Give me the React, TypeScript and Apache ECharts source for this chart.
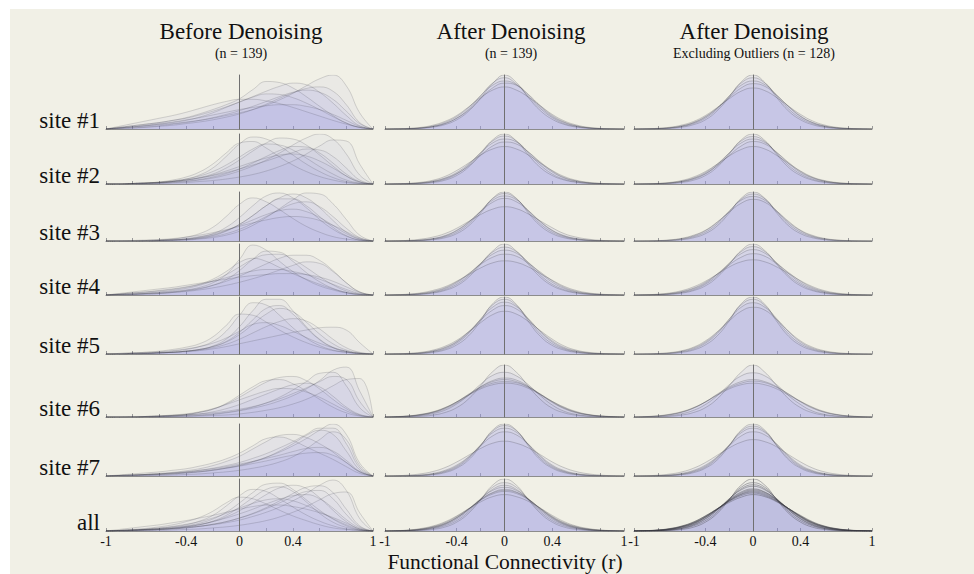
import React, { useEffect, useRef } from "react";
import * as echarts from "echarts";

// ---------- DATA ----------
const xValues = [-1, -0.9, -0.8, -0.7, -0.6, -0.5, -0.4, -0.3, -0.2, -0.1, 0, 0.1, 0.2, 0.3, 0.4, 0.5, 0.6, 0.7, 0.8, 0.9, 1];
const rowLabels = ["site #1", "site #2", "site #3", "site #4", "site #5", "site #6", "site #7", "all"];
const columnTitles = ["Before Denoising", "After Denoising", "After Denoising"];
const columnSubtitles = ["(n = 139)", "(n = 139)", "Excluding Outliers (n = 128)"];
const tickLabels = ["-1", "-0.4", "0", "0.4", "1"];
const axisTitle = "Functional Connectivity (r)";

// Before denoising (density, % of panel height)
const beforeSite1 = [
  [0, 2, 4, 6, 8, 10, 13, 16, 20, 25, 30, 36, 44, 54, 66, 80, 93, 100, 80, 30, 0],
  [0, 3, 6, 9, 12, 16, 21, 28, 36, 45, 56, 73, 88, 86, 76, 60, 42, 25, 11, 3, 0],
  [0, 3, 6, 9, 12, 16, 20, 26, 33, 41, 50, 60, 70, 79, 85, 82, 68, 48, 25, 6, 0],
  [0, 1, 2, 3, 5, 7, 10, 13, 17, 22, 28, 36, 46, 57, 67, 75, 78, 70, 45, 12, 0],
  [0, 2, 4, 7, 10, 13, 17, 21, 26, 31, 36, 40, 43, 45, 45, 42, 36, 27, 16, 5, 0],
  [0, 2, 4, 6, 9, 12, 16, 22, 30, 40, 50, 59, 65, 64, 58, 48, 36, 23, 11, 3, 0],
  [0, 1, 2, 4, 6, 9, 12, 16, 21, 27, 34, 42, 51, 60, 68, 72, 68, 55, 33, 10, 0],
  [0, 5, 10, 15, 20, 25, 31, 38, 45, 51, 55, 55, 52, 47, 40, 32, 24, 16, 9, 3, 0],
];
const beforeSite2 = [
  [0, 0, 0, 1, 2, 3, 5, 8, 12, 18, 26, 36, 48, 62, 78, 92, 100, 90, 60, 18, 0],
  [0, 0, 1, 2, 3, 6, 10, 18, 32, 55, 80, 94, 90, 76, 58, 40, 25, 13, 5, 1, 0],
  [0, 0, 1, 2, 3, 5, 8, 13, 20, 32, 48, 66, 82, 92, 90, 78, 58, 36, 16, 4, 0],
  [0, 0, 0, 0, 1, 2, 3, 5, 7, 10, 14, 19, 26, 35, 46, 60, 76, 88, 86, 40, 0],
  [0, 0, 1, 2, 3, 5, 8, 12, 18, 26, 35, 44, 52, 58, 60, 56, 46, 32, 16, 4, 0],
  [0, 0, 1, 2, 4, 6, 10, 16, 25, 38, 54, 70, 80, 78, 68, 52, 35, 20, 8, 2, 0],
  [0, 0, 0, 1, 2, 4, 6, 9, 14, 21, 30, 42, 55, 67, 75, 74, 62, 42, 20, 5, 0],
  [0, 0, 1, 2, 4, 8, 14, 24, 40, 62, 82, 85, 72, 54, 38, 25, 15, 8, 3, 1, 0],
  [0, 0, 1, 2, 3, 5, 8, 12, 17, 23, 30, 38, 46, 55, 63, 70, 68, 55, 32, 8, 0],
];
const beforeSite3 = [
  [0, 0, 0, 0, 1, 2, 4, 8, 15, 28, 48, 72, 92, 98, 88, 68, 44, 24, 10, 2, 0],
  [0, 0, 0, 0, 0, 1, 2, 4, 7, 12, 20, 32, 48, 66, 84, 98, 96, 76, 44, 12, 0],
  [0, 0, 0, 0, 1, 2, 3, 6, 11, 20, 34, 52, 72, 88, 96, 88, 68, 42, 18, 4, 0],
  [0, 0, 0, 1, 2, 3, 5, 9, 14, 22, 32, 43, 54, 62, 65, 60, 48, 32, 15, 4, 0],
  [0, 0, 0, 1, 2, 4, 8, 15, 28, 50, 75, 88, 80, 64, 46, 30, 18, 9, 4, 1, 0],
  [0, 0, 0, 0, 1, 2, 3, 5, 9, 15, 24, 36, 50, 64, 76, 80, 70, 50, 26, 7, 0],
  [0, 0, 0, 0, 1, 2, 4, 7, 12, 21, 34, 52, 72, 86, 86, 72, 50, 28, 11, 2, 0],
  [0, 0, 1, 2, 3, 5, 8, 12, 17, 23, 30, 37, 43, 48, 50, 48, 42, 32, 19, 6, 0],
];
const beforeSite4 = [
  [0, 1, 2, 3, 5, 7, 10, 15, 24, 40, 70, 98, 88, 66, 46, 30, 18, 10, 4, 1, 0],
  [0, 1, 2, 3, 4, 6, 9, 13, 19, 27, 37, 49, 61, 72, 78, 78, 68, 48, 24, 6, 0],
  [0, 1, 2, 4, 6, 9, 13, 19, 28, 40, 55, 70, 79, 80, 70, 54, 36, 20, 8, 2, 0],
  [0, 2, 4, 6, 9, 12, 16, 21, 27, 34, 41, 47, 50, 50, 46, 40, 31, 21, 11, 3, 0],
  [0, 2, 4, 6, 8, 11, 15, 21, 31, 46, 64, 72, 66, 54, 42, 31, 21, 12, 5, 1, 0],
  [0, 1, 1, 2, 3, 5, 7, 10, 14, 19, 25, 32, 40, 49, 58, 65, 62, 46, 24, 6, 0],
  [0, 0, 1, 2, 3, 5, 8, 12, 19, 30, 48, 70, 86, 84, 66, 44, 26, 13, 5, 1, 0],
  [0, 3, 6, 9, 12, 15, 19, 23, 27, 31, 35, 38, 40, 42, 42, 40, 35, 27, 16, 5, 0],
];
const beforeSite5 = [
  [0, 0, 1, 1, 2, 3, 5, 8, 14, 26, 48, 76, 96, 96, 76, 48, 26, 12, 5, 1, 0],
  [0, 0, 1, 2, 3, 5, 8, 13, 22, 40, 68, 90, 86, 68, 46, 28, 15, 7, 3, 1, 0],
  [0, 0, 0, 1, 2, 3, 4, 6, 9, 13, 18, 23, 28, 33, 38, 42, 46, 47, 42, 20, 0],
  [0, 1, 2, 3, 4, 6, 9, 13, 19, 28, 40, 52, 55, 50, 40, 29, 19, 11, 5, 1, 0],
  [0, 0, 1, 1, 2, 3, 5, 8, 13, 21, 34, 52, 70, 80, 74, 56, 35, 18, 7, 2, 0],
  [0, 1, 2, 3, 5, 8, 12, 18, 30, 50, 70, 68, 56, 42, 30, 20, 12, 6, 3, 1, 0],
  [0, 0, 0, 1, 2, 3, 5, 8, 13, 22, 38, 60, 80, 85, 70, 46, 25, 11, 4, 1, 0],
  [0, 0, 1, 1, 2, 3, 5, 7, 11, 17, 26, 37, 48, 57, 62, 58, 44, 26, 11, 3, 0],
];
const beforeSite6 = [
  [0, 0, 0, 1, 2, 3, 5, 9, 15, 25, 38, 53, 67, 76, 78, 70, 54, 34, 16, 4, 0],
  [0, 0, 0, 0, 1, 1, 2, 3, 5, 8, 12, 17, 23, 31, 41, 54, 70, 90, 96, 50, 0],
  [0, 0, 0, 0, 1, 2, 3, 4, 6, 9, 13, 19, 27, 38, 52, 68, 84, 86, 60, 18, 0],
  [0, 0, 0, 0, 0, 1, 1, 2, 3, 4, 6, 9, 13, 18, 25, 34, 46, 60, 72, 74, 0],
  [0, 0, 1, 1, 2, 4, 6, 10, 16, 24, 33, 42, 50, 55, 54, 48, 38, 25, 12, 3, 0],
  [0, 0, 0, 1, 2, 3, 5, 9, 15, 26, 42, 58, 70, 72, 64, 50, 34, 19, 8, 2, 0],
  [0, 0, 0, 1, 1, 2, 4, 6, 10, 16, 24, 34, 44, 54, 62, 65, 58, 40, 19, 5, 0],
  [0, 0, 0, 1, 2, 3, 4, 6, 8, 11, 15, 20, 27, 35, 45, 56, 68, 78, 72, 30, 0],
];
const beforeSite7 = [
  [0, 1, 2, 3, 4, 5, 7, 9, 12, 16, 21, 28, 36, 46, 58, 72, 88, 100, 80, 25, 0],
  [0, 1, 2, 3, 4, 6, 8, 11, 15, 20, 26, 34, 43, 54, 66, 80, 92, 92, 62, 16, 0],
  [0, 1, 2, 3, 5, 7, 10, 14, 20, 28, 38, 52, 66, 78, 80, 74, 62, 46, 26, 8, 0],
  [0, 1, 1, 2, 3, 4, 6, 8, 11, 15, 19, 24, 29, 35, 40, 44, 45, 40, 26, 8, 0],
  [0, 0, 0, 1, 1, 2, 3, 4, 6, 8, 11, 15, 20, 27, 37, 52, 70, 85, 70, 20, 0],
  [0, 2, 4, 6, 8, 11, 14, 19, 25, 33, 44, 58, 72, 75, 68, 56, 44, 32, 18, 5, 0],
  [0, 0, 1, 2, 3, 4, 6, 8, 11, 15, 20, 27, 36, 48, 62, 78, 88, 80, 48, 12, 0],
  [0, 1, 2, 3, 4, 6, 8, 11, 14, 18, 23, 28, 34, 40, 47, 53, 55, 48, 30, 9, 0],
];
const beforeAll = [
  [0, 1, 2, 3, 5, 7, 10, 15, 23, 36, 54, 74, 90, 92, 80, 60, 40, 23, 10, 2, 0],
  [0, 1, 2, 3, 4, 5, 7, 9, 12, 16, 21, 28, 36, 46, 58, 72, 88, 98, 78, 24, 0],
  [0, 1, 1, 2, 3, 5, 8, 12, 18, 27, 39, 54, 70, 83, 88, 82, 64, 40, 18, 4, 0],
  [0, 0, 1, 2, 3, 4, 6, 9, 13, 18, 25, 34, 45, 58, 72, 84, 87, 74, 42, 10, 0],
  [0, 1, 2, 4, 6, 9, 13, 18, 25, 34, 44, 53, 60, 62, 58, 49, 37, 24, 12, 3, 0],
  [0, 1, 2, 3, 5, 8, 12, 19, 30, 48, 68, 80, 76, 62, 46, 31, 19, 10, 4, 1, 0],
  [0, 1, 2, 3, 4, 6, 9, 13, 18, 25, 33, 42, 52, 61, 68, 70, 62, 44, 22, 6, 0],
  [0, 0, 0, 1, 1, 2, 3, 4, 6, 8, 11, 15, 20, 27, 36, 47, 60, 72, 75, 35, 0],
  [0, 3, 6, 9, 12, 16, 20, 25, 30, 36, 42, 47, 50, 50, 47, 42, 35, 26, 15, 4, 0],
  [0, 0, 1, 2, 3, 5, 8, 12, 19, 30, 46, 64, 80, 85, 76, 56, 34, 17, 7, 2, 0],
  [0, 1, 3, 5, 8, 12, 18, 26, 38, 54, 65, 62, 52, 40, 29, 20, 12, 6, 3, 1, 0],
  [0, 0, 1, 2, 3, 4, 6, 9, 13, 18, 25, 33, 43, 54, 66, 76, 78, 62, 32, 8, 0],
];

// After denoising (n = 139)
const afterSite1 = [
  [0, 0.1, 0.4, 1.2, 3.5, 8, 17, 33, 57, 84, 100, 86, 58, 34, 18, 8.5, 3.6, 1.3, 0.4, 0.1, 0],
  [0, 0.2, 0.6, 1.8, 4.5, 10, 20, 37, 61, 85, 95, 83, 60, 38, 21, 10, 4.6, 1.8, 0.6, 0.2, 0],
  [0, 0.3, 0.8, 2.2, 5.5, 12, 23, 40, 62, 81, 89, 82, 63, 41, 23, 12, 5.5, 2.2, 0.8, 0.3, 0],
  [0, 0.2, 0.6, 1.8, 4.6, 10, 20, 35, 56, 76, 85, 81, 64, 43, 25, 13, 6, 2.4, 0.8, 0.2, 0],
  [0, 0.4, 1.2, 3, 7, 14, 25, 41, 58, 72, 78, 72, 59, 43, 27, 15, 7.5, 3.2, 1.2, 0.4, 0],
];
const afterSite2 = [
  [0, 0.1, 0.3, 1, 3, 7.5, 17, 34, 60, 88, 100, 86, 58, 33, 17, 8, 3.4, 1.2, 0.4, 0.1, 0],
  [0, 0.2, 0.5, 1.6, 4.2, 9.5, 20, 38, 63, 86, 96, 86, 62, 38, 20, 9.5, 4.2, 1.6, 0.5, 0.2, 0],
  [0, 0.3, 0.9, 2.4, 5.8, 12, 23, 40, 62, 82, 90, 84, 64, 42, 24, 12, 5.8, 2.4, 0.9, 0.3, 0],
  [0, 0.3, 0.8, 2.2, 5, 11, 21, 36, 57, 76, 84, 80, 64, 44, 26, 13, 6.2, 2.5, 0.9, 0.3, 0],
  [0, 0.5, 1.4, 3.4, 7.5, 15, 27, 42, 58, 70, 75, 70, 58, 42, 27, 15, 7.5, 3.4, 1.4, 0.5, 0],
];
const afterSite3 = [
  [0, 0, 0.2, 0.8, 2.6, 6.5, 15, 31, 57, 87, 100, 87, 57, 31, 15, 6.5, 2.6, 0.8, 0.2, 0, 0],
  [0, 0.1, 0.4, 1.2, 3.6, 8.5, 18, 35, 60, 86, 97, 86, 60, 35, 18, 8.5, 3.6, 1.2, 0.4, 0.1, 0],
  [0, 0.2, 0.6, 1.8, 4.6, 10, 21, 38, 61, 83, 92, 84, 62, 39, 21, 10, 4.6, 1.8, 0.6, 0.2, 0],
  [0, 0.2, 0.7, 2, 5, 11, 22, 39, 60, 79, 87, 80, 62, 40, 22, 11, 5, 2, 0.7, 0.2, 0],
  [0, 0.5, 1.5, 3.8, 8, 15, 26, 40, 54, 65, 70, 66, 55, 41, 27, 15, 8, 3.8, 1.5, 0.5, 0],
];
const afterSite4 = [
  [0, 0.1, 0.4, 1.3, 3.8, 8.8, 18, 35, 60, 86, 100, 86, 60, 35, 18, 8.8, 3.8, 1.3, 0.4, 0.1, 0],
  [0, 0.2, 0.6, 1.9, 4.8, 10.5, 21, 38, 62, 84, 94, 85, 63, 39, 21, 10.5, 4.8, 1.9, 0.6, 0.2, 0],
  [0, 0.3, 0.9, 2.5, 6, 12.5, 24, 41, 62, 80, 88, 82, 64, 43, 25, 13, 6, 2.5, 0.9, 0.3, 0],
  [0, 0.4, 1.2, 3.2, 7, 14, 26, 42, 60, 74, 80, 76, 62, 45, 28, 15, 7.2, 3.2, 1.2, 0.4, 0],
  [0, 0.6, 1.8, 4.2, 9, 16, 27, 40, 53, 63, 67, 64, 55, 42, 29, 17, 9, 4.2, 1.8, 0.6, 0],
];
const afterSite5 = [
  [0, 0, 0.2, 0.9, 2.8, 7, 16, 32, 58, 88, 100, 87, 57, 31, 15, 6.8, 2.7, 0.9, 0.2, 0, 0],
  [0, 0.1, 0.4, 1.3, 3.8, 8.8, 19, 36, 61, 86, 96, 85, 60, 35, 18, 8.5, 3.6, 1.2, 0.4, 0.1, 0],
  [0, 0.2, 0.6, 1.8, 4.8, 10.5, 21, 38, 61, 82, 91, 83, 62, 39, 21, 10, 4.6, 1.8, 0.6, 0.2, 0],
  [0, 0.3, 0.8, 2.2, 5.4, 11.5, 22, 39, 59, 77, 85, 79, 61, 40, 23, 11.5, 5.4, 2.2, 0.8, 0.3, 0],
  [0, 0.4, 1.2, 3, 6.8, 13.5, 24, 39, 55, 69, 75, 70, 57, 41, 26, 14, 6.8, 3, 1.2, 0.4, 0],
];
const afterSite6 = [
  [0, 0.1, 0.4, 1.3, 3.6, 8.5, 18, 35, 60, 87, 100, 86, 59, 34, 17, 8, 3.4, 1.2, 0.4, 0.1, 0],
  [0, 0.3, 1, 2.8, 6.5, 13, 25, 42, 63, 80, 86, 79, 62, 41, 23, 11, 5, 2, 0.7, 0.2, 0],
  [0, 0.6, 1.8, 4.3, 9, 17, 29, 44, 58, 68, 72, 68, 58, 44, 29, 17, 9, 4.3, 1.8, 0.6, 0],
  [0, 0.7, 2, 4.8, 9.5, 17.5, 29, 43, 56, 65, 68, 66, 57, 44, 30, 18, 9.5, 4.6, 2, 0.7, 0],
  [0, 0.8, 2.2, 5.2, 10, 18, 29, 42, 54, 62, 65, 63, 55, 43, 30, 19, 10.5, 5, 2.2, 0.8, 0],
  [0, 0.5, 1.6, 3.9, 8.2, 15.5, 27, 42, 58, 70, 75, 71, 59, 43, 28, 16, 8.2, 3.9, 1.6, 0.5, 0],
];
const afterSite7 = [
  [0, 0, 0.2, 0.8, 2.5, 6.4, 15, 31, 58, 88, 100, 88, 58, 31, 15, 6.4, 2.5, 0.8, 0.2, 0, 0],
  [0, 0.1, 0.3, 1.1, 3.3, 8, 17, 34, 59, 86, 97, 87, 60, 34, 17, 8, 3.2, 1.1, 0.3, 0.1, 0],
  [0, 0.1, 0.5, 1.5, 4, 9.2, 19, 36, 60, 83, 92, 84, 61, 37, 19, 9, 4, 1.5, 0.5, 0.1, 0],
  [0, 0.2, 0.7, 2, 5, 10.8, 21, 37, 58, 77, 85, 79, 61, 39, 21, 10.5, 4.8, 2, 0.7, 0.2, 0],
  [0, 0.6, 1.8, 4.2, 8.6, 16, 27, 40, 53, 63, 67, 63, 54, 41, 27, 16, 8.6, 4.2, 1.8, 0.6, 0],
];
const afterAll = [
  [0, 0.1, 0.3, 1, 3, 7.5, 17, 34, 60, 88, 100, 88, 60, 34, 17, 7.5, 3, 1, 0.3, 0.1, 0],
  [0, 0.2, 0.6, 1.8, 4.6, 10, 20, 37, 61, 84, 93, 84, 61, 37, 20, 10, 4.6, 1.8, 0.6, 0.2, 0],
  [0, 0.3, 1, 2.7, 6.3, 13, 25, 42, 62, 78, 84, 78, 62, 42, 25, 13, 6.3, 2.7, 1, 0.3, 0],
  [0, 0.4, 1.3, 3.4, 7.5, 14.5, 26, 42, 60, 73, 78, 74, 61, 43, 27, 15, 7.5, 3.4, 1.3, 0.4, 0],
  [0, 0.5, 1.6, 4, 8.5, 16, 28, 43, 59, 71, 76, 72, 60, 44, 28, 16, 8.5, 4, 1.6, 0.5, 0],
  [0, 0.4, 1.2, 3.2, 7.2, 14, 26, 42, 60, 74, 80, 75, 61, 43, 26, 14, 7, 3.1, 1.2, 0.4, 0],
  [0, 0.7, 2, 4.8, 9.6, 17.5, 29, 43, 56, 66, 70, 66, 57, 44, 30, 18, 9.6, 4.8, 2, 0.7, 0],
  [0, 0.3, 0.8, 2.3, 5.5, 12, 23, 40, 61, 80, 88, 80, 61, 40, 23, 12, 5.5, 2.3, 0.8, 0.3, 0],
];

// After denoising, excluding outliers (n = 128)
const exclSite1 = [
  [0, 0.1, 0.3, 1.1, 3.3, 8, 17, 34, 59, 87, 100, 86, 58, 33, 17, 8, 3.3, 1.1, 0.3, 0.1, 0],
  [0, 0.2, 0.6, 1.7, 4.4, 10, 20, 37, 61, 85, 95, 85, 61, 37, 20, 10, 4.4, 1.7, 0.6, 0.2, 0],
  [0, 0.3, 0.8, 2.2, 5.4, 11.5, 22, 39, 61, 81, 89, 82, 63, 41, 23, 12, 5.5, 2.2, 0.8, 0.3, 0],
  [0, 0.3, 0.9, 2.4, 5.6, 12, 23, 39, 58, 76, 84, 79, 62, 42, 24, 12, 5.6, 2.4, 0.9, 0.3, 0],
  [0, 0.4, 1.3, 3.2, 7.2, 14, 25, 40, 56, 70, 76, 71, 58, 42, 27, 15, 7.4, 3.2, 1.3, 0.4, 0],
];
const exclSite2 = [
  [0, 0.1, 0.3, 1, 3.1, 7.6, 17, 34, 60, 88, 100, 87, 59, 33, 17, 7.8, 3.2, 1.1, 0.3, 0.1, 0],
  [0, 0.2, 0.5, 1.6, 4.3, 9.8, 20, 38, 62, 86, 95, 85, 61, 37, 20, 9.6, 4.2, 1.6, 0.5, 0.2, 0],
  [0, 0.3, 0.9, 2.4, 5.7, 12, 23, 40, 62, 82, 90, 83, 63, 41, 23, 12, 5.7, 2.4, 0.9, 0.3, 0],
  [0, 0.3, 0.8, 2.2, 5.2, 11, 21, 37, 57, 76, 85, 80, 63, 43, 25, 13, 6, 2.4, 0.8, 0.3, 0],
  [0, 0.4, 1.2, 3.1, 7, 14, 25, 40, 56, 69, 75, 70, 57, 41, 26, 14, 7, 3.1, 1.2, 0.4, 0],
];
const exclSite3 = [
  [0, 0, 0.2, 0.8, 2.6, 6.6, 15, 31, 57, 87, 100, 87, 57, 31, 15, 6.6, 2.6, 0.8, 0.2, 0, 0],
  [0, 0.1, 0.4, 1.3, 3.7, 8.7, 18, 35, 60, 85, 96, 86, 60, 35, 18, 8.6, 3.6, 1.2, 0.4, 0.1, 0],
  [0, 0.2, 0.6, 1.8, 4.7, 10.3, 21, 38, 61, 83, 91, 83, 61, 38, 21, 10, 4.6, 1.8, 0.6, 0.2, 0],
  [0, 0.3, 0.8, 2.3, 5.5, 11.8, 22, 39, 59, 77, 85, 79, 61, 40, 22, 11.5, 5.3, 2.2, 0.8, 0.3, 0],
];
const exclSite4 = [
  [0, 0.1, 0.4, 1.2, 3.6, 8.6, 18, 35, 60, 87, 100, 87, 60, 35, 18, 8.6, 3.6, 1.2, 0.4, 0.1, 0],
  [0, 0.2, 0.6, 1.8, 4.7, 10.3, 21, 38, 62, 85, 95, 85, 62, 38, 21, 10.3, 4.7, 1.8, 0.6, 0.2, 0],
  [0, 0.3, 0.9, 2.5, 5.9, 12.3, 23, 41, 62, 81, 89, 82, 63, 42, 24, 12.5, 5.9, 2.5, 0.9, 0.3, 0],
  [0, 0.4, 1.1, 3, 6.8, 13.5, 25, 41, 59, 74, 81, 76, 61, 44, 27, 14.5, 7, 3, 1.1, 0.4, 0],
  [0, 0.5, 1.6, 4, 8.5, 16, 27, 41, 55, 65, 69, 65, 55, 42, 28, 16.5, 8.6, 4, 1.6, 0.5, 0],
];
const exclSite5 = [
  [0, 0, 0.2, 0.9, 2.8, 7, 16, 32, 58, 88, 100, 87, 57, 31, 15, 6.8, 2.7, 0.9, 0.2, 0, 0],
  [0, 0.1, 0.4, 1.3, 3.8, 8.8, 19, 36, 61, 86, 96, 85, 60, 35, 18, 8.5, 3.6, 1.2, 0.4, 0.1, 0],
  [0, 0.2, 0.7, 1.9, 4.9, 10.6, 21, 38, 61, 82, 90, 82, 62, 39, 21, 10.2, 4.7, 1.9, 0.7, 0.2, 0],
  [0, 0.3, 0.9, 2.4, 5.7, 12, 23, 39, 58, 75, 82, 77, 60, 40, 23, 12, 5.7, 2.4, 0.9, 0.3, 0],
];
const exclSite6 = [
  [0, 0.1, 0.4, 1.3, 3.7, 8.6, 18, 35, 60, 86, 100, 86, 60, 35, 18, 8.3, 3.5, 1.2, 0.4, 0.1, 0],
  [0, 0.3, 0.9, 2.6, 6.2, 12.7, 24, 41, 62, 79, 85, 79, 62, 41, 24, 11.5, 5.2, 2.1, 0.7, 0.2, 0],
  [0, 0.6, 1.8, 4.3, 9, 17, 29, 44, 58, 68, 72, 68, 58, 44, 29, 17, 9, 4.3, 1.8, 0.6, 0],
  [0, 0.7, 2, 4.7, 9.5, 17.5, 29, 43, 56, 65, 69, 66, 57, 44, 30, 18, 9.6, 4.7, 2, 0.7, 0],
  [0, 0.8, 2.3, 5.3, 10.2, 18, 29, 42, 54, 62, 65, 62, 54, 42, 30, 19, 10.5, 5.1, 2.2, 0.8, 0],
];
const exclSite7 = [
  [0, 0, 0.2, 0.8, 2.5, 6.4, 15, 31, 58, 88, 100, 88, 58, 31, 15, 6.4, 2.5, 0.8, 0.2, 0, 0],
  [0, 0.1, 0.3, 1.1, 3.3, 8, 17, 34, 59, 86, 96, 86, 59, 34, 17, 8, 3.3, 1.1, 0.3, 0.1, 0],
  [0, 0.1, 0.5, 1.5, 4, 9.3, 19, 36, 60, 83, 92, 84, 61, 37, 19, 9.1, 4, 1.5, 0.5, 0.1, 0],
  [0, 0.2, 0.7, 2, 5, 10.8, 21, 37, 58, 77, 85, 79, 61, 39, 21, 10.5, 4.8, 2, 0.7, 0.2, 0],
  [0, 0.5, 1.5, 3.7, 7.8, 15, 26, 40, 54, 65, 70, 66, 56, 41, 27, 15.5, 8, 3.7, 1.5, 0.5, 0],
];
const exclAll = [
  [0, 0.1, 0.3, 1, 3, 7.4, 17, 34, 60, 88, 100, 88, 60, 34, 17, 7.4, 3, 1, 0.3, 0.1, 0],
  [0, 0.2, 0.6, 1.8, 4.5, 10, 20, 37, 61, 84, 93, 84, 61, 37, 20, 10, 4.5, 1.8, 0.6, 0.2, 0],
  [0, 0.3, 0.9, 2.5, 6, 12.5, 24, 41, 62, 79, 86, 79, 62, 41, 24, 12.5, 6, 2.5, 0.9, 0.3, 0],
  [0, 0.4, 1.2, 3.2, 7.2, 14, 26, 42, 60, 75, 81, 75, 60, 42, 26, 14, 7.2, 3.2, 1.2, 0.4, 0],
  [0, 0.4, 1.3, 3.4, 7.6, 14.6, 26.5, 42, 59, 73, 79, 74, 60, 43, 27, 15, 7.6, 3.4, 1.3, 0.4, 0],
  [0, 0.5, 1.5, 3.8, 8.2, 15.5, 27, 42, 58, 71, 77, 72, 59, 43, 28, 16, 8.2, 3.8, 1.5, 0.5, 0],
  [0, 0.5, 1.6, 4, 8.6, 16, 28, 43, 58, 70, 75, 70, 58, 43, 28, 16, 8.6, 4, 1.6, 0.5, 0],
  [0, 0.6, 1.8, 4.4, 9.2, 17, 29, 43, 57, 68, 73, 68, 57, 43, 29, 17, 9.2, 4.4, 1.8, 0.6, 0],
  [0, 0.3, 0.8, 2.2, 5.3, 11.5, 23, 40, 61, 81, 89, 81, 61, 40, 23, 11.5, 5.3, 2.2, 0.8, 0.3, 0],
  [0, 0.7, 2, 4.7, 9.6, 17.5, 29, 42, 55, 65, 70, 66, 56, 43, 30, 18, 9.6, 4.7, 2, 0.7, 0],
];

const beforePanels = [beforeSite1, beforeSite2, beforeSite3, beforeSite4, beforeSite5, beforeSite6, beforeSite7, beforeAll];
const afterPanels = [afterSite1, afterSite2, afterSite3, afterSite4, afterSite5, afterSite6, afterSite7, afterAll];
const exclPanels = [exclSite1, exclSite2, exclSite3, exclSite4, exclSite5, exclSite6, exclSite7, exclAll];
const columns = [beforePanels, afterPanels, exclPanels];

// ---------- LAYOUT / STYLE ----------
const FONT = '"Liberation Serif", "Times New Roman", serif';
const COLS = [
  { left: 106, right: 373, center: 241 },
  { left: 385, right: 624, center: 511 },
  { left: 634, right: 872, center: 754 },
];
const ROWS = [
  [75, 129], [134, 184], [192, 241], [244, 295], [297, 354], [365, 417], [424, 476], [479, 531],
];

function buildOption() {
  const grid: any[] = [];
  const xAxis: any[] = [];
  const yAxis: any[] = [];
  const series: any[] = [];
  let idx = 0;
  columns.forEach((panels, c) => {
    panels.forEach((curves, r) => {
      const [top, bottom] = ROWS[r];
      grid.push({ left: COLS[c].left, width: COLS[c].right - COLS[c].left, top, height: bottom - top });
      xAxis.push({
        gridIndex: idx, type: "value", min: -1, max: 1, interval: 0.2,
        axisLine: { show: true, onZero: false, lineStyle: { color: "#8c8c8c", width: 1 } },
        axisTick: { show: true, inside: true, length: 3, lineStyle: { color: "#9a9a9a", width: 1 } },
        axisLabel: {
          show: r === 7, margin: 3, fontFamily: FONT, fontSize: 14, color: "#111",
          showMinLabel: true, showMaxLabel: true,
          formatter: (v: number) => {
            const s = String(Math.round(v * 10) / 10);
            return tickLabels.includes(s) ? s : "";
          },
        },
        splitLine: { show: false },
      });
      yAxis.push({
        gridIndex: idx, type: "value", min: 0, max: 100, z: 5,
        axisLine: { show: true, onZero: true, lineStyle: { color: "#707070", width: 1 } },
        axisTick: { show: false }, axisLabel: { show: false }, splitLine: { show: false },
      });
      const n = curves.length;
      const alpha = 1 - Math.pow(0.53, 1 / n);
      const lineAlpha = c === 2 && r === 7 ? 0.6 : c > 0 ? 0.4 : 0.3;
      curves.forEach((curve) => {
        series.push({
          type: "line", xAxisIndex: idx, yAxisIndex: idx, silent: true,
          data: xValues.map((x, k) => [x, curve[k]]),
          smooth: 0.45, symbol: "none",
          lineStyle: { color: `rgba(55,55,65,${lineAlpha})`, width: 0.6 },
          areaStyle: { color: `rgba(150,150,228,${alpha.toFixed(3)})`, opacity: 1 },
        });
      });
      idx++;
    });
  });

  const graphic: any[] = [];
  const txt = (text: string, x: number, y: number, size: number, align: string) => ({
    type: "text", x, y, silent: true,
    style: {
      text, fill: "#111", fontSize: size, fontFamily: FONT,
      align, textAlign: align, verticalAlign: "middle", textVerticalAlign: "middle",
    },
  });
  COLS.forEach((col, c) => {
    graphic.push(txt(columnTitles[c], col.center, 31, 23, "center"));
    graphic.push(txt(columnSubtitles[c], col.center, 53, 14, "center"));
  });
  rowLabels.forEach((lab, r) => {
    graphic.push(txt(lab, 100, ROWS[r][1] - 9, 23, "right"));
  });
  graphic.push(txt(axisTitle, 505, 562, 21.5, "center"));

  return { animation: false, grid, xAxis, yAxis, series, graphic };
}

export default function App() {
  const ref = useRef<HTMLDivElement>(null);
  useEffect(() => {
    const chart = echarts.init(ref.current!, null, { renderer: "svg" });
    chart.setOption(buildOption());
    return () => chart.dispose();
  }, []);
  return (
    <div style={{ position: "fixed", left: 0, top: 0, width: 974, height: 574, background: "#ffffff" }}>
      <div style={{ position: "absolute", left: 10, top: 9, right: 0, bottom: 0, background: "#f1f0e6" }} />
      <div ref={ref} style={{ position: "absolute", left: 0, top: 0, width: 974, height: 574 }} />
    </div>
  );
}
